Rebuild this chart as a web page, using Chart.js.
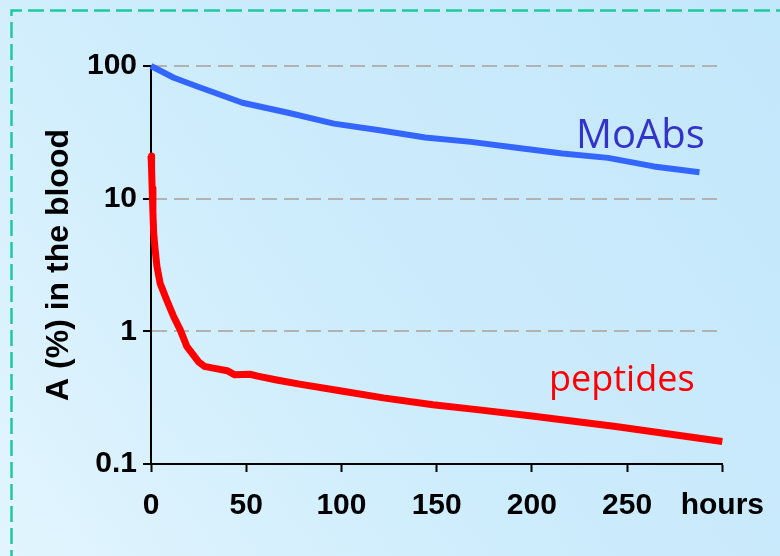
<!DOCTYPE html>
<html>
<head>
<meta charset="utf-8">
<script src="https://cdn.jsdelivr.net/npm/chart.js@4/dist/chart.umd.min.js"></script>
<style>
  html, body { margin: 0; padding: 0; overflow: hidden; }
  body { width: 780px; height: 556px; }
  canvas { display: block; }
</style>
</head>
<body>
<canvas id="c" width="780" height="556"></canvas>
<script>
// ---- data ----
const moabsHours  = [0, 12, 24, 48, 72, 96, 120, 144, 168, 192, 216, 240, 264, 288];
const moabsValues = [100, 81.5, 70.4, 52.8, 44.4, 36.8, 32.8, 28.9, 26.8, 24.2, 21.9, 20.3, 17.5, 15.8];

const peptideHours  = [0, 0.3, 0.6, 1, 1.4, 2.2, 3.1, 4.8, 8.4, 11.8, 15.3, 18.8, 24.9, 28, 32, 40, 44, 52, 56, 66, 78, 100, 122, 148, 170, 200, 244, 300];
const peptideValues = [21, 17, 12, 8, 5.5, 4.1, 3.1, 2.3, 1.7, 1.3, 1.03, 0.77, 0.59, 0.545, 0.53, 0.505, 0.47, 0.475, 0.46, 0.43, 0.40, 0.355, 0.315, 0.28, 0.258, 0.23, 0.192, 0.148];

const xTickValues = [0, 50, 100, 150, 200, 250, 300];
const xTickLabels = ['0', '50', '100', '150', '200', '250', 'hours'];
const yTickValues = [0.1, 1, 10, 100];
const yTickLabels = ['0.1', '1', '10', '100'];

const seriesNames = ['MoAbs', 'peptides'];
const yAxisTitle = 'A (%) in the blood';

// ---- plugins ----
const backgroundPlugin = {
  id: 'bgFrame',
  beforeDraw(chart) {
    const ctx = chart.ctx;
    const w = chart.width, h = chart.height;
    ctx.save();
    const g = ctx.createLinearGradient(0, h, w, 0);
    g.addColorStop(0, '#e2f5fe');
    g.addColorStop(0.45, '#cdecfc');
    g.addColorStop(1, '#c3e7fb');
    ctx.fillStyle = g;
    ctx.fillRect(0, 0, w, h);
    ctx.strokeStyle = '#1fc9a0';
    ctx.lineWidth = 2.5;
    ctx.setLineDash([16, 6]);
    ctx.beginPath();
    ctx.moveTo(11.5, h + 10);
    ctx.lineTo(11.5, 10.5);
    ctx.lineTo(w + 10, 10.5);
    ctx.stroke();
    ctx.restore();
  }
};

const seriesLabelPlugin = {
  id: 'seriesLabels',
  afterDatasetsDraw(chart) {
    const ctx = chart.ctx;
    ctx.save();
    ctx.textBaseline = 'alphabetic';
    ctx.textAlign = 'left';
    ctx.fillStyle = '#3333cc';
    ctx.font = '40px "Open Sans"';
    ctx.fillText(seriesNames[0], 576, 148);
    ctx.fillStyle = '#ff0000';
    ctx.font = '36px "Open Sans"';
    ctx.fillText(seriesNames[1], 549, 391);
    ctx.restore();
  }
};

const gridGray = '#b2b2b2';

new Chart(document.getElementById('c'), {
  type: 'line',
  data: {
    datasets: [
      {
        label: seriesNames[0],
        data: moabsHours.map((h, i) => ({ x: h, y: moabsValues[i] })),
        borderColor: '#3366ff',
        borderWidth: 6,
        pointRadius: 0,
        tension: 0,
        borderCapStyle: 'butt',
        borderJoinStyle: 'round',
        clip: false
      },
      {
        label: seriesNames[1],
        data: peptideHours.map((h, i) => ({ x: h, y: peptideValues[i] })),
        borderColor: '#ff0000',
        borderWidth: 7,
        pointRadius: 0,
        tension: 0,
        borderCapStyle: 'butt',
        borderJoinStyle: 'round',
        clip: false
      }
    ]
  },
  options: {
    responsive: false,
    animation: false,
    devicePixelRatio: 1,
    layout: { padding: { top: 66, right: 55, left: 0, bottom: 0 } },
    plugins: {
      legend: { display: false },
      tooltip: { enabled: false },
      title: { display: false }
    },
    scales: {
      x: {
        type: 'linear',
        min: 0,
        max: 300,
        afterFit(scale) { scale.height = 92; },
        afterBuildTicks(scale) { scale.ticks = xTickValues.map(v => ({ value: v })); },
        ticks: {
          autoSkip: false,
          maxRotation: 0,
          padding: 16,
          color: '#000',
          font: { family: '"Liberation Sans", Arial, sans-serif', size: 30, weight: 'bold' },
          callback: (v) => { const i = xTickValues.indexOf(v); return i >= 0 ? xTickLabels[i] : ''; }
        },
        grid: {
          drawOnChartArea: false,
          drawTicks: true,
          tickLength: 8,
          tickColor: '#000',
          tickWidth: 2,
          tickBorderDash: [],
          color: '#000'
        },
        border: { display: true, color: '#000', width: 2 }
      },
      y: {
        type: 'logarithmic',
        min: 0.1,
        max: 100,
        afterFit(scale) { scale.width = 151; },
        afterBuildTicks(scale) { scale.ticks = yTickValues.map(v => ({ value: v })); },
        ticks: {
          autoSkip: false,
          padding: 6,
          color: '#000',
          font: { family: '"Liberation Sans", Arial, sans-serif', size: 30, weight: 'bold' },
          callback: (v) => { const i = yTickValues.indexOf(v); return i >= 0 ? yTickLabels[i] : ''; }
        },
        grid: {
          drawOnChartArea: true,
          drawTicks: true,
          tickLength: 8,
          tickColor: '#000',
          tickWidth: 2,
          tickBorderDash: [],
          lineWidth: 2,
          color: (ctx) => (ctx.tick && ctx.tick.value === 0.1) ? 'rgba(0,0,0,0)' : gridGray
        },
        border: { display: true, color: '#000', width: 2, dash: [15, 7] },
        title: {
          display: true,
          text: yAxisTitle,
          color: '#000',
          font: { family: '"Liberation Sans", Arial, sans-serif', size: 32, weight: 'bold' },
          padding: { top: 40, bottom: 0 }
        }
      }
    }
  },
  plugins: [backgroundPlugin, seriesLabelPlugin]
});
</script>
</body>
</html>
